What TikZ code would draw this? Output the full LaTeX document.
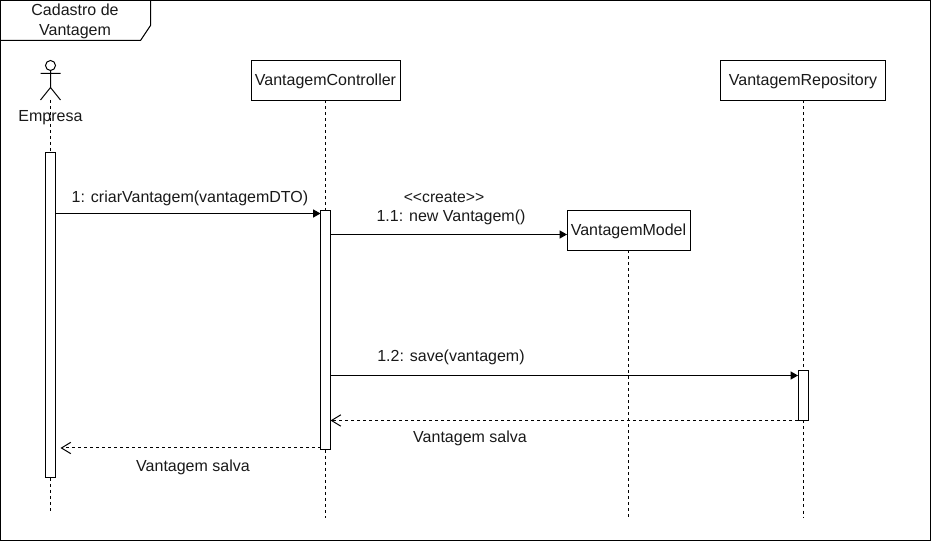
\documentclass[tikz,border=0pt]{standalone}
\usepackage{fontspec}
\setmainfont{Liberation Sans}
\usetikzlibrary{arrows.meta,calc}
\tikzset{
  x=0.75pt,y=-0.75pt,
  every node/.style={font=\fontsize{12pt}{15pt}\selectfont,text=black!90,inner sep=0pt,outer sep=0pt},
  base/.style={line width=0.75pt,draw=black},
  objbox/.style={base,fill=white,rectangle,minimum height=30pt,text height=9.5pt,text depth=2pt},
  activation/.style={base,fill=white,rectangle,minimum width=7.5pt,anchor=north west},
  lifeline/.style={base,dash pattern=on 2.25pt off 2.25pt},
  callmsg/.style={base,-{Triangle[length=5.5pt,width=6pt]}},
  replymsg/.style={base,dash pattern=on 2.25pt off 2.25pt,-{Straight Barb[length=7pt,width=8.5pt]}},
}
\begin{document}
\begin{tikzpicture}
\useasboundingbox (0,0) rectangle (932,541);
% frame
\draw[base] (0.5,0.5) rectangle (930.5,540.5);
\coordinate (fa) at (0.5,40.5);
\coordinate (fb) at (140.5,40.5);
\coordinate (fc) at (150.5,25.5);
\coordinate (fd) at (150.5,0.5);
\draw[base] (fa) -- (fb) -- (fc) -- (fd);
\node[align=center] (title) at (75,21.5) {Cadastro de\\Vantagem};
% lifeline ends
\coordinate (endA) at (50.5,512);
\coordinate (endC) at (325.5,518);
\coordinate (endM) at (628.5,518);
\coordinate (endR) at (803,518);
% actor
\coordinate (actorfoot) at (50.5,100);
\draw[base] (50.5,65.5) circle (5);
\draw[base] (50.5,70.5) -- (50.5,87.5) (40.5,73.5) -- (60.5,73.5) (40.5,100) -- (50.5,87.5) -- (60.5,100);
% boxes
\node[objbox,minimum width=111.75pt,anchor=north west] (ctrl) at (251,60.5) {VantagemController};
\node[objbox,minimum width=123.75pt,anchor=north west] (repo) at (720.5,60.5) {VantagemRepository};
\node[objbox,minimum width=92.25pt,anchor=north west] (model) at (567,210.5) {VantagemModel};
% activations
\node[activation,minimum height=243.75pt] (aA) at (45.5,153) {};
\node[activation,minimum height=179.25pt] (aC) at (320.5,211) {};
\node[activation,minimum height=37.5pt] (aR) at (798,370.5) {};
% lifelines
\draw[lifeline] (actorfoot) -- (aA.north);
\draw[lifeline] (aA.south) -- (endA);
\draw[lifeline] (ctrl.south) -- (aC.north);
\draw[lifeline] (aC.south) -- (endC);
\draw[lifeline] (model.south) -- (endM);
\draw[lifeline] (repo.south) -- (aR.north);
\draw[lifeline] (aR.south) -- (endR);
\node (empresa) at (50.5,117.3) {Empresa};
% messages
\draw[callmsg] ([yshift=-45.375pt]aA.north east) -- ([yshift=-1.875pt]aC.north west);
\draw[callmsg] ([yshift=-17.625pt]aC.north east) -- ([yshift=-3pt]model.west);
\draw[callmsg] ([yshift=-123.375pt]aC.north east) -- ([yshift=-3.75pt]aR.north west);
\draw[replymsg] (aR.south west) -- ([yshift=-157.125pt]aC.north east);
\draw[replymsg] ([yshift=-177.75pt]aC.north west) -- ([xshift=3.75pt,yshift=-221.25pt]aA.north east);
% labels
\node (m1) at (190,198.5) {1: criarVantagem(vantagemDTO)};
\node (m2) at (444,197.5) {\fontsize{11.8pt}{13pt}\selectfont <{}<create>{}>};
\node (m3) at (451,217.5) {1.1: new Vantagem()};
\node (m4) at (451,357.5) {1.2: save(vantagem)};
\node (m5) at (470,438.5) {Vantagem salva};
\node (m6) at (193,467.5) {Vantagem salva};
\end{tikzpicture}
\end{document}
